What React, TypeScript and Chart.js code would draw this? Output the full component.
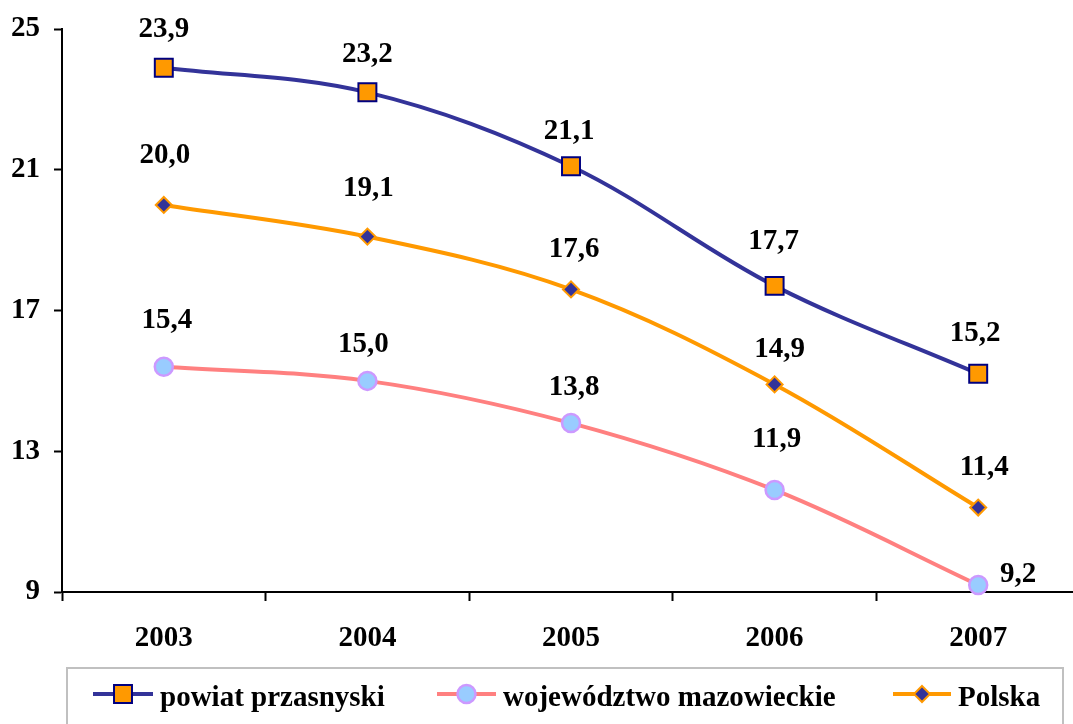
import React, { useEffect, useRef } from "react";
import { Chart, registerables } from "chart.js";

Chart.register(...registerables);

const categories = ["2003", "2004", "2005", "2006", "2007"];
const powiatValues = [23.9, 23.2, 21.1, 17.7, 15.2];
const mazowieckieValues = [15.4, 15.0, 13.8, 11.9, 9.2];
const polskaValues = [20.0, 19.1, 17.6, 14.9, 11.4];
const seriesNames = ["powiat przasnyski", "województwo mazowieckie", "Polska"];
const yTicks = [9, 13, 17, 21, 25];

// label offsets relative to the point (dx, dy), style only
const labelOffsets = [
  [[0, -38], [0, -38], [-2, -35], [-1, -44], [-3, -40]],
  [[3, -46], [-4, -36], [3, -36], [2, -50], [40, -10]],
  [[1, -49], [1, -48], [3, -40], [5, -35], [6, -40]],
];

const FONT = "Liberation Serif";

const dataLabelPlugin = {
  id: "dataLabels",
  afterDatasetsDraw(chart: any) {
    const ctx = chart.ctx;
    ctx.save();
    ctx.font = `bold 29px "${FONT}"`;
    ctx.fillStyle = "#000";
    ctx.textAlign = "center";
    ctx.textBaseline = "middle";
    chart.data.datasets.forEach((ds: any, di: number) => {
      const meta = chart.getDatasetMeta(di);
      meta.data.forEach((pt: any, i: number) => {
        const v = ds.data[i] as number;
        const txt = v.toFixed(1).replace(".", ",");
        const off = labelOffsets[di][i];
        ctx.fillText(txt, pt.x + off[0], pt.y + off[1]);
      });
    });
    ctx.restore();
  },
};

function drawMarker(ctx: CanvasRenderingContext2D, style: string, x: number, y: number, r: number, fill: string, stroke: string, lw: number) {
  ctx.save();
  ctx.beginPath();
  if (style === "rect") {
    const s = Math.SQRT1_2 * r;
    ctx.rect(x - s, y - s, 2 * s, 2 * s);
  } else if (style === "rectRot") {
    ctx.moveTo(x, y - r);
    ctx.lineTo(x + r, y);
    ctx.lineTo(x, y + r);
    ctx.lineTo(x - r, y);
    ctx.closePath();
  } else {
    ctx.arc(x, y, r, 0, Math.PI * 2);
  }
  ctx.fillStyle = fill;
  ctx.fill();
  ctx.lineWidth = lw;
  ctx.strokeStyle = stroke;
  ctx.stroke();
  ctx.restore();
}

const legendLayout = [
  { x1: 93, x2: 153, tx: 160 },
  { x1: 437, x2: 496, tx: 503 },
  { x1: 893, x2: 951, tx: 958 },
];

const legendPlugin = {
  id: "customLegend",
  afterDraw(chart: any) {
    const ctx = chart.ctx;
    ctx.save();
    ctx.strokeStyle = "#C0C0C0";
    ctx.lineWidth = 2;
    ctx.strokeRect(67, 668, 1063 - 67, 80);
    const cy = 694;
    chart.data.datasets.forEach((ds: any, di: number) => {
      const L = legendLayout[di];
      ctx.beginPath();
      ctx.moveTo(L.x1, cy);
      ctx.lineTo(L.x2, cy);
      ctx.strokeStyle = ds.borderColor;
      ctx.lineWidth = 4;
      ctx.stroke();
      drawMarker(ctx, ds.pointStyle, (L.x1 + L.x2) / 2, cy, ds.pointRadius, ds.pointBackgroundColor, ds.pointBorderColor, ds.pointBorderWidth);
      ctx.font = `bold 29px "${FONT}"`;
      ctx.fillStyle = "#000";
      ctx.textAlign = "left";
      ctx.textBaseline = "alphabetic";
      ctx.fillText(ds.label, L.tx, 706);
    });
    ctx.restore();
  },
};

export default function App() {
  const canvasRef = useRef<HTMLCanvasElement | null>(null);

  useEffect(() => {
    if (!canvasRef.current) return;
    const chart = new Chart(canvasRef.current, {
      type: "line",
      data: {
        labels: categories,
        datasets: [
          {
            label: seriesNames[0],
            data: powiatValues,
            borderColor: "#333399",
            borderWidth: 4,
            tension: 0.35,
            pointStyle: "rect",
            pointRadius: 12.7,
            pointHoverRadius: 12.7,
            pointBackgroundColor: "#FF9900",
            pointBorderColor: "#000080",
            pointBorderWidth: 2,
            clip: false,
          },
          {
            label: seriesNames[1],
            data: mazowieckieValues,
            borderColor: "#FF8080",
            borderWidth: 4,
            tension: 0.35,
            pointStyle: "circle",
            pointRadius: 9,
            pointHoverRadius: 9,
            pointBackgroundColor: "#99CCFF",
            pointBorderColor: "#CC99FF",
            pointBorderWidth: 2.5,
            clip: false,
          },
          {
            label: seriesNames[2],
            data: polskaValues,
            borderColor: "#FF9900",
            borderWidth: 4,
            tension: 0.35,
            pointStyle: "rectRot",
            pointRadius: 8,
            pointHoverRadius: 8,
            pointBackgroundColor: "#333399",
            pointBorderColor: "#FF9900",
            pointBorderWidth: 2,
            clip: false,
          },
        ] as any,
      },
      options: {
        responsive: false,
        animation: false,
        devicePixelRatio: 1,
        events: [],
        layout: { autoPadding: false, padding: { top: 29, left: 0, right: 0, bottom: 0 } },
        plugins: { legend: { display: false }, tooltip: { enabled: false } },
        scales: {
          x: {
            type: "category",
            offset: true,
            grid: {
              offset: true,
              drawOnChartArea: false,
              tickLength: 9,
              tickColor: "#000",
              tickWidth: 2,
            },
            border: { display: true, color: "#000", width: 2 },
            ticks: {
              color: "#000",
              font: { family: FONT, size: 29, weight: "bold" },
              padding: 20,
              maxRotation: 0,
            },
            afterFit: (s: any) => {
              s.height = 132;
              s.paddingLeft = 0;
              s.paddingRight = 0;
            },
          },
          y: {
            min: 9,
            max: 25,
            afterBuildTicks: (s: any) => {
              s.ticks = yTicks.map((v) => ({ value: v }));
            },
            grid: {
              drawOnChartArea: false,
              tickLength: 8,
              tickColor: "#000",
              tickWidth: 2,
            },
            border: { display: true, color: "#000", width: 2 },
            ticks: {
              color: "#000",
              font: { family: FONT, size: 29, weight: "bold" },
              padding: 14,
            },
            afterFit: (s: any) => {
              s.width = 62;
              s.paddingTop = 0;
              s.paddingBottom = 0;
            },
          },
        },
      } as any,
      plugins: [dataLabelPlugin, legendPlugin],
    });
    return () => chart.destroy();
  }, []);

  return (
    <div
      style={{
        position: "absolute",
        left: 0,
        top: 0,
        width: 1073,
        height: 724,
        overflow: "hidden",
        background: "#fff",
      }}
    >
      <canvas ref={canvasRef} width={1080} height={724} style={{ width: 1080, height: 724, display: "block" }} />
    </div>
  );
}
